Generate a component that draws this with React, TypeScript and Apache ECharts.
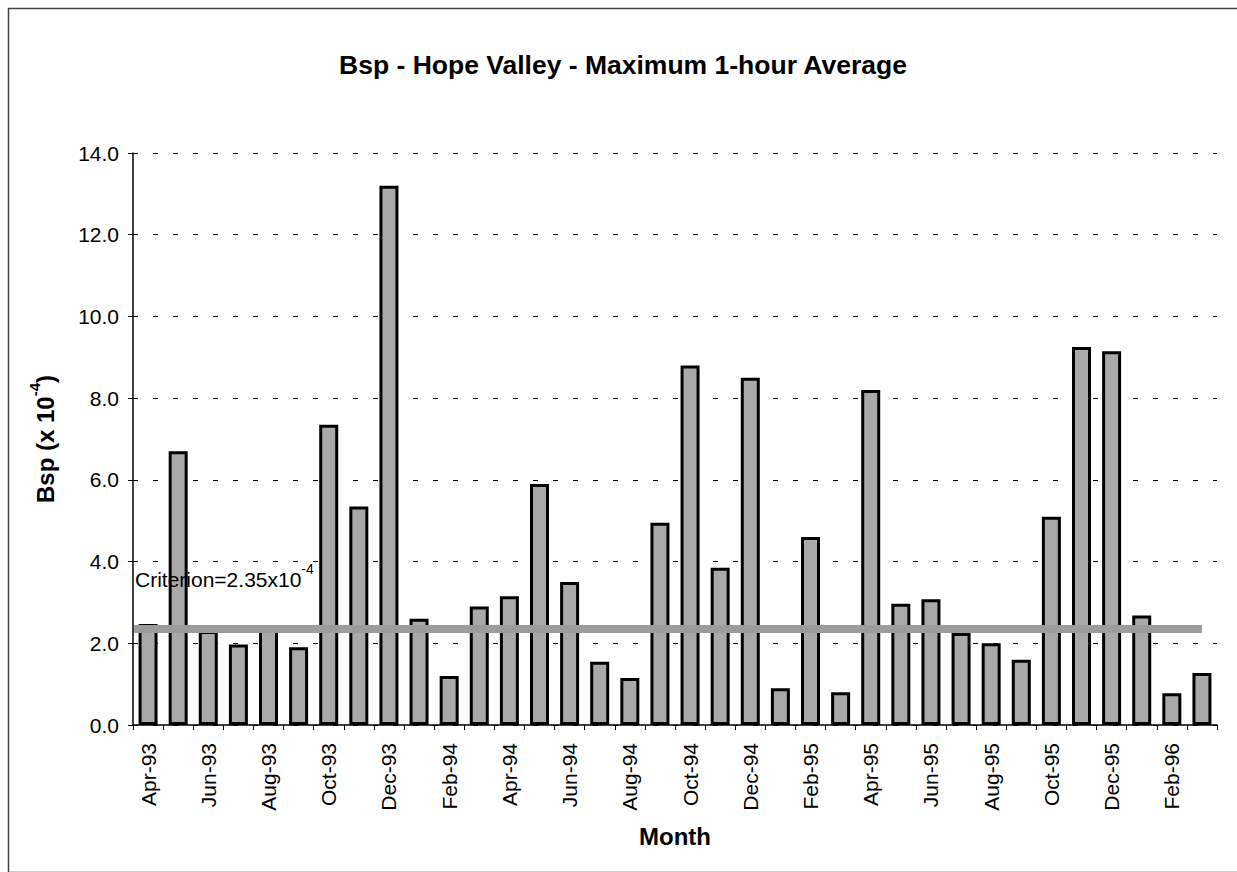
import React, { useEffect, useRef } from "react";
import * as echarts from "echarts";

const months = [
  "Apr-93", "May-93", "Jun-93", "Jul-93", "Aug-93", "Sep-93", "Oct-93", "Nov-93", "Dec-93",
  "Jan-94", "Feb-94", "Mar-94", "Apr-94", "May-94", "Jun-94", "Jul-94", "Aug-94", "Sep-94",
  "Oct-94", "Nov-94", "Dec-94", "Jan-95", "Feb-95", "Mar-95", "Apr-95", "May-95", "Jun-95",
  "Jul-95", "Aug-95", "Sep-95", "Oct-95", "Nov-95", "Dec-95", "Jan-96", "Feb-96", "Mar-96",
];

const bspValues = [
  2.47, 6.7, 2.3, 1.97, 2.45, 1.9, 7.35, 5.35, 13.2,
  2.6, 1.2, 2.9, 3.15, 5.9, 3.5, 1.55, 1.15, 4.95,
  8.8, 3.85, 8.5, 0.9, 4.6, 0.8, 8.2, 2.97, 3.08,
  2.25, 2.0, 1.6, 5.1, 9.25, 9.15, 2.68, 0.78, 1.27,
];

const criterion = 2.35;
const yTicks = [0, 2, 4, 6, 8, 10, 12, 14];

export default function App() {
  const ref = useRef<HTMLDivElement>(null);
  useEffect(() => {
    if (!ref.current) return;
    const chart = echarts.init(ref.current, null, { renderer: "svg" });
    const font = "Liberation Sans, Arial, Helvetica, sans-serif";
    chart.setOption({
      animation: false,
      backgroundColor: "#ffffff",
      title: {
        text: "Bsp - Hope Valley - Maximum 1-hour Average",
        left: 618,
        top: 46,
        textAlign: "center",
        textStyle: { fontFamily: font, fontSize: 26.5, fontWeight: "bold", color: "#000" },
      },
      graphic: [
        {
          type: "rect",
          left: 6,
          top: 6,
          shape: { width: 1240, height: 864 },
          style: { fill: "none", stroke: "#444", lineWidth: 1.5 },
          silent: true,
        },
        {
          type: "text",
          left: 135,
          top: 562,
          style: {
            text: "{a|Criterion=2.35x10}{s|-4}",
            rich: {
              a: { fontFamily: font, fontSize: 21, color: "#000", verticalAlign: "bottom", lineHeight: 28 },
              s: { fontFamily: font, fontSize: 14, color: "#000", verticalAlign: "top", lineHeight: 26 },
            },
          },
          z: 100,
        },
      ],
      grid: { left: 133, right: 20, top: 153, bottom: 147, containLabel: false },
      xAxis: {
        type: "category",
        data: months,
        boundaryGap: true,
        name: "Month",
        nameLocation: "middle",
        nameGap: 99,
        nameMoveOverlap: false,
        nameTextStyle: { fontFamily: font, fontSize: 24, fontWeight: "bold", color: "#000" },
        axisLine: { lineStyle: { color: "#000", width: 1.5 } },
        axisTick: { show: true, interval: 0, length: 5, lineStyle: { color: "#000" } },
        axisLabel: {
          interval: 1,
          rotate: 90,
          margin: 18,
          fontFamily: font,
          fontSize: 21,
          color: "#000",
        },
      },
      yAxis: {
        type: "value",
        min: yTicks[0],
        max: yTicks[yTicks.length - 1],
        interval: 2,
        name: "{a|Bsp (x 10}{s|-4}{a|)}",
        nameLocation: "middle",
        nameRotate: 90,
        nameGap: 76,
        nameTextStyle: {
          rich: {
            a: { fontFamily: font, fontSize: 24, fontWeight: "bold", color: "#000", verticalAlign: "bottom", lineHeight: 30 },
            s: { fontFamily: font, fontSize: 15, fontWeight: "bold", color: "#000", verticalAlign: "top", lineHeight: 30 },
          },
        },
        axisLine: { show: true, lineStyle: { color: "#000", width: 1.5 } },
        axisTick: { show: true, length: 5, lineStyle: { color: "#000" } },
        axisLabel: {
          margin: 14,
          fontFamily: font,
          fontSize: 21,
          color: "#000",
          formatter: (v: number) => v.toFixed(1),
        },
        splitLine: { show: true, lineStyle: { color: "#000", type: [5, 15], width: 1.2 } },
      },
      series: [
        {
          type: "bar",
          data: bspValues,
          barWidth: 19,
          itemStyle: { color: "#a9a9a9", borderColor: "#000", borderWidth: 3 },
          markLine: {
            silent: true,
            symbol: "none",
            label: { show: false },
            lineStyle: { color: "#9c9c9c", width: 8, type: "solid" },
            data: [
              [
                { coord: [months[0], criterion], x: 134 },
                { coord: [months[months.length - 1], criterion] },
              ],
            ],
            z: 10,
          },
        },
      ],
    });
    return () => chart.dispose();
  }, []);
  return (
    <div
      ref={ref}
      style={{ position: "absolute", left: 0, top: 0, width: 1237, height: 872 }}
    />
  );
}
